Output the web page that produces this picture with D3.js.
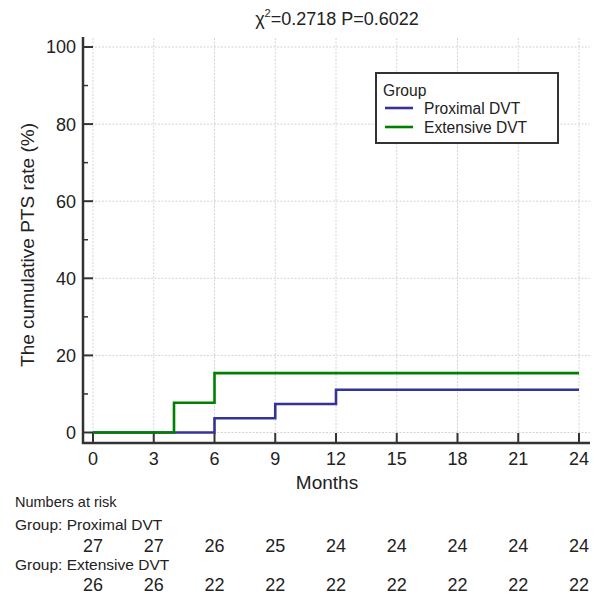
<!DOCTYPE html>
<html><head><meta charset="utf-8">
<script src="https://cdn.jsdelivr.net/npm/d3@7"></script>
<style>body{margin:0;background:#fff}svg{display:block}text{font-family:"Liberation Sans",Arial,sans-serif;fill:#222}</style>
</head><body>
<script>
const xTicks = [0,3,6,9,12,15,18,21,24];
const yTicks = [0,20,40,60,80,100];
const yMinor = [10,30,50,70,90];
const groups = ["Proximal DVT","Extensive DVT"];
const colors = ["#333399","#008000"];
const proximalTime = [0,6,9,12,24];
const proximalRate = [0,3.7,7.4,11.1,11.1];
const extensiveTime = [0,4,6,24];
const extensiveRate = [0,7.7,15.4,15.4];
const riskProximal = [27,27,26,25,24,24,24,24,24];
const riskExtensive = [26,26,22,22,22,22,22,22,22];
const title = "=0.2718 P=0.6022";

const W=598,H=595;
const svg=d3.select("body").append("svg").attr("width",W).attr("height",H);
const x=d3.scaleLinear().domain([0,24]).range([93,579]);
const y=d3.scaleLinear().domain([0,100]).range([432.5,47]);
const plotL=88, plotR=590, plotT=38, axisY=443, axisX=83;

// grid
const g=svg.append("g");
g.selectAll(".vg").data(xTicks).join("line")
 .attr("x1",d=>x(d)).attr("x2",d=>x(d)).attr("y1",plotT).attr("y2",axisY-2)
 .attr("stroke","#d4d4d4").attr("stroke-width",1).attr("stroke-dasharray","2,1.5");
g.selectAll(".hg").data(yTicks).join("line")
 .attr("x1",plotL).attr("x2",plotR).attr("y1",d=>y(d)).attr("y2",d=>y(d))
 .attr("stroke","#d4d4d4").attr("stroke-width",1).attr("stroke-dasharray","2,1.5");

// y axis
const ya=svg.append("g").attr("transform",`translate(${axisX},0)`);
ya.append("line").attr("x1",0).attr("x2",0).attr("y1",37).attr("y2",axisY+1).attr("stroke","#333").attr("stroke-width",2.5);
ya.selectAll(".mt").data(yTicks).join("line").attr("x1",0).attr("x2",10).attr("y1",d=>y(d)).attr("y2",d=>y(d)).attr("stroke","#333").attr("stroke-width",2);
ya.selectAll(".nt").data(yMinor).join("line").attr("x1",0).attr("x2",5).attr("y1",d=>y(d)).attr("y2",d=>y(d)).attr("stroke","#333").attr("stroke-width",1.5);
ya.selectAll(".lb").data(yTicks).join("text").attr("x",-7).attr("y",d=>y(d)).attr("dy","0.36em")
 .attr("text-anchor","end").attr("font-size",18).text(d=>d);

// x axis
const xa=svg.append("g").attr("transform",`translate(0,${axisY})`);
xa.append("line").attr("x1",axisX-1).attr("x2",plotR).attr("y1",0).attr("y2",0).attr("stroke","#333").attr("stroke-width",2.5);
xa.selectAll(".mt").data(xTicks).join("line").attr("x1",d=>x(d)).attr("x2",d=>x(d)).attr("y1",0).attr("y2",-10).attr("stroke","#333").attr("stroke-width",2);
xa.selectAll(".lb").data(xTicks).join("text").attr("x",d=>x(d)).attr("y",21.5)
 .attr("text-anchor","middle").attr("font-size",18).text(d=>d);

// curves
const line=d3.line().x(d=>x(d[0])).y(d=>y(d[1])).curve(d3.curveStepAfter);
const series=[d3.zip(proximalTime,proximalRate), d3.zip(extensiveTime,extensiveRate)];
series.forEach((s,i)=>{
  svg.append("path").attr("d",line(s)).attr("fill","none").attr("stroke",colors[i]).attr("stroke-width",2.6);
});

// labels
svg.append("text").attr("x",327).attr("y",489).attr("text-anchor","middle").attr("font-size",19).text("Months");
svg.append("text").attr("transform","translate(34,245) rotate(-90)").attr("text-anchor","middle").attr("font-size",19).text("The cumulative PTS rate (%)");
const t=svg.append("text").attr("x",337).attr("y",25).attr("text-anchor","middle").attr("font-size",18);
t.append("tspan").text("χ");
t.append("tspan").attr("font-size",11).attr("dy",-8).text("2");
t.append("tspan").attr("dy",8).text(title);

// legend
const lg=svg.append("g");
lg.append("rect").attr("x",376).attr("y",73).attr("width",182).attr("height",70).attr("fill","#fff").attr("stroke","#333").attr("stroke-width",2);
lg.append("text").attr("x",383).attr("y",96).attr("font-size",15.6).text("Group");
groups.forEach((gname,i)=>{
  const yy=108+i*19;
  lg.append("line").attr("x1",385).attr("x2",413).attr("y1",yy).attr("y2",yy).attr("stroke",colors[i]).attr("stroke-width",2.6);
  lg.append("text").attr("x",424).attr("y",yy+5.5).attr("font-size",15.6).text(gname);
});

// numbers at risk
svg.append("text").attr("x",15).attr("y",507).attr("font-size",14.5).text("Numbers at risk");
svg.append("text").attr("x",15).attr("y",530).attr("font-size",15.5).text("Group: "+groups[0]);
svg.append("text").attr("x",15).attr("y",570).attr("font-size",15.5).text("Group: "+groups[1]);
svg.selectAll(".r1").data(riskProximal).join("text").attr("x",(d,i)=>x(xTicks[i])).attr("y",551.5).attr("text-anchor","middle").attr("font-size",18).text(d=>d);
svg.selectAll(".r2").data(riskExtensive).join("text").attr("x",(d,i)=>x(xTicks[i])).attr("y",591).attr("text-anchor","middle").attr("font-size",18).text(d=>d);
</script>
</body></html>
